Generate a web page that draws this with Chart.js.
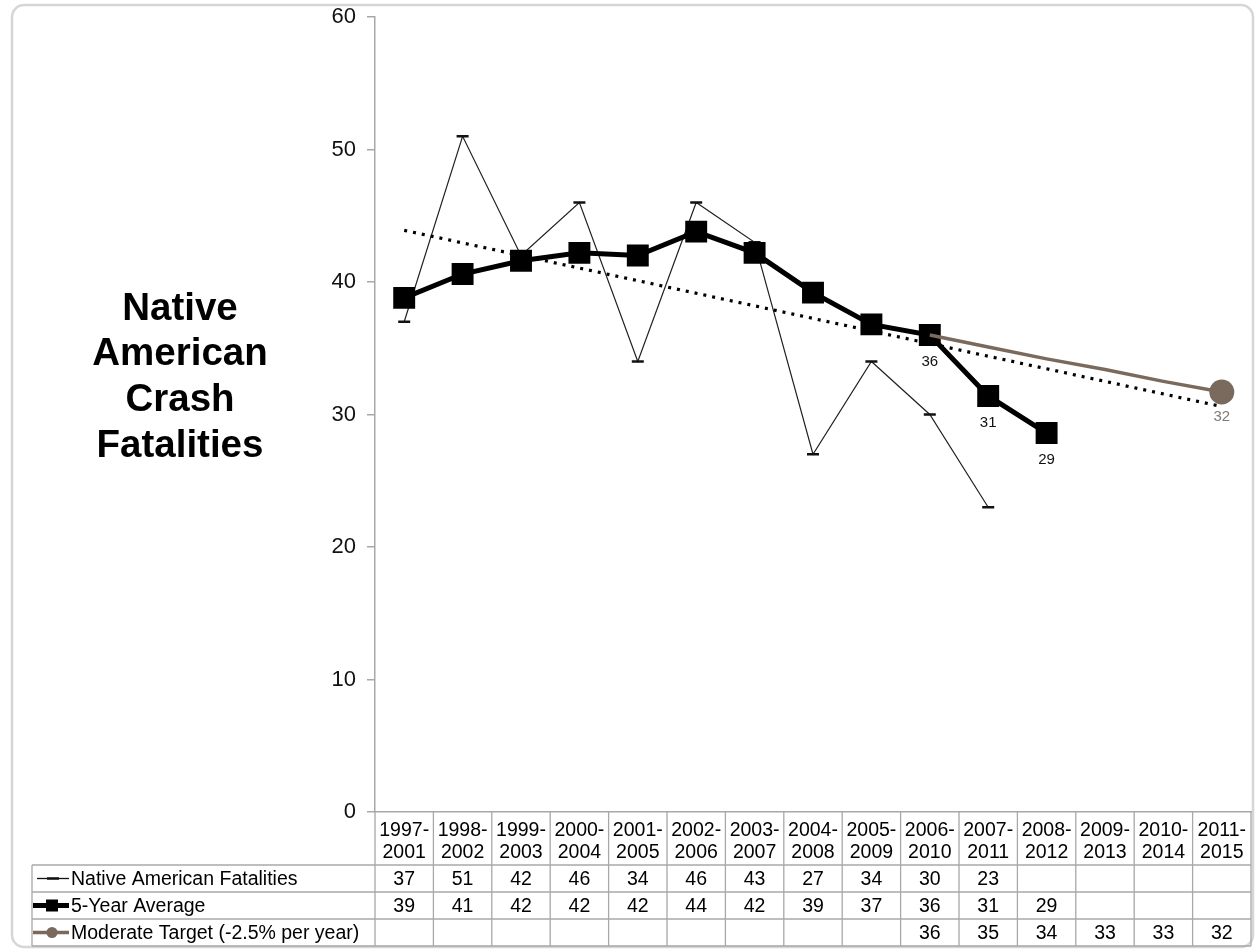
<!DOCTYPE html>
<html>
<head>
<meta charset="utf-8">
<title>Native American Crash Fatalities</title>
<script src="https://cdn.jsdelivr.net/npm/chart.js@4/dist/chart.umd.min.js"></script>
<style>
  html, body { margin: 0; padding: 0; background: #fff; }
  #wrap { position: relative; width: 1256px; height: 951px; }
</style>
</head>
<body>
<div id="wrap"><canvas id="c"></canvas></div>
<script>
// Five-year periods along the x axis
const periods = ['1997-2001', '1998-2002', '1999-2003', '2000-2004', '2001-2005',
  '2002-2006', '2003-2007', '2004-2008', '2005-2009', '2006-2010', '2007-2011',
  '2008-2012', '2009-2013', '2010-2014', '2011-2015'];

// Series values
const fatalities = [37, 51, 42, 46, 34, 46, 43, 27, 34, 30, 23, null, null, null, null];
const fiveYearAverage = [38.8, 40.6, 41.6, 42.2, 42.0, 43.8, 42.2, 39.2, 36.8, 36.0, 31.4, 28.6, null, null, null];
const moderateTarget = [null, null, null, null, null, null, null, null, null, 36.0, 35.1, 34.2, 33.4, 32.5, 31.7];
// Linear trend of the 5-year average, end points only
const averageTrend = [43.9, null, null, null, null, null, null, null, null, null, null, null, null, null, 30.6];

const seriesNames = ['Native American Fatalities', '5-Year Average', 'Moderate Target (-2.5% per year)'];
const titleLines = ['Native', 'American', 'Crash', 'Fatalities'];
const yTickValues = [0, 10, 20, 30, 40, 50, 60];

// Points whose values are written next to the marker
const labelledAverage = [9, 10, 11];
const labelledTarget = [14];

const FONT = "'Liberation Sans', Arial, Helvetica, sans-serif";
const TARGET_COLOR = '#7a6a5e';
const GRID_COLOR = '#a8a8a8';

function strokeLine(ctx, x1, y1, x2, y2) {
  ctx.beginPath();
  ctx.moveTo(x1, y1);
  ctx.lineTo(x2, y2);
  ctx.stroke();
}

const frameAndTable = {
  id: 'frameAndTable',
  beforeDraw(chart) {
    const ctx = chart.ctx;
    ctx.save();
    ctx.strokeStyle = '#d6d6d6';
    ctx.lineWidth = 2.5;
    ctx.beginPath();
    ctx.roundRect(12, 5, 1241, 942, 12);
    ctx.stroke();
    ctx.restore();
  },
  afterDraw(chart) {
    const { ctx, chartArea, scales } = chart;
    const xs = scales.x, ys = scales.y;
    const n = periods.length;
    const colW = (chartArea.right - chartArea.left) / n;
    const headTop = chartArea.bottom;
    const rowTop = 865, rowH = 27, tableLeft = 32;
    const tableBottom = rowTop + 3 * rowH;

    ctx.save();
    // Table grid
    ctx.strokeStyle = GRID_COLOR;
    ctx.lineWidth = 1.3;
    for (let r = 0; r <= 3; r++) {
      const y = rowTop + r * rowH;
      strokeLine(ctx, tableLeft, y, chartArea.right, y);
    }
    strokeLine(ctx, tableLeft, rowTop, tableLeft, tableBottom);
    for (let i = 0; i <= n; i++) {
      const xx = chartArea.left + i * colW;
      strokeLine(ctx, xx, headTop, xx, tableBottom);
    }

    // Row headers with series keys
    const rows = [fatalities, fiveYearAverage, moderateTarget];
    ctx.font = '19.5px ' + FONT;
    ctx.textBaseline = 'middle';
    ctx.fillStyle = '#000';
    for (let r = 0; r < 3; r++) {
      const cy = rowTop + r * rowH + rowH / 2;
      if (r === 0) {
        ctx.strokeStyle = '#111'; ctx.lineWidth = 1.3;
        strokeLine(ctx, 37, cy, 69, cy);
        ctx.lineWidth = 2.5;
        strokeLine(ctx, 47, cy, 59, cy);
      } else if (r === 1) {
        ctx.strokeStyle = '#000'; ctx.lineWidth = 5;
        strokeLine(ctx, 33, cy, 69, cy);
        ctx.fillStyle = '#000';
        ctx.fillRect(46, cy - 6, 12, 12);
      } else {
        ctx.strokeStyle = TARGET_COLOR; ctx.lineWidth = 3.5;
        strokeLine(ctx, 33, cy, 69, cy);
        ctx.fillStyle = TARGET_COLOR;
        ctx.beginPath(); ctx.arc(52, cy, 5.5, 0, Math.PI * 2); ctx.fill();
      }
      ctx.fillStyle = '#000';
      ctx.textAlign = 'left';
      ctx.fillText(seriesNames[r], 71, cy + 1);
      ctx.textAlign = 'center';
      rows[r].forEach((v, i) => {
        if (v === null) return;
        ctx.fillText(String(Math.round(v)), xs.getPixelForValue(i), cy + 1);
      });
    }

    // Value labels beside selected markers
    ctx.font = '15px ' + FONT;
    ctx.textAlign = 'center';
    ctx.fillStyle = '#111';
    labelledAverage.forEach(i => {
      const v = fiveYearAverage[i];
      ctx.fillText(String(Math.round(v)), xs.getPixelForValue(i), ys.getPixelForValue(v) + 27);
    });
    ctx.fillStyle = '#7f7a76';
    labelledTarget.forEach(i => {
      const v = moderateTarget[i];
      ctx.fillText(String(Math.round(v)), xs.getPixelForValue(i), ys.getPixelForValue(v) + 25);
    });

    // Side title
    ctx.font = 'bold 38.5px ' + FONT;
    ctx.fillStyle = '#000';
    ctx.textAlign = 'center';
    titleLines.forEach((t, k) => ctx.fillText(t, 180, 309 + k * 45.7));
    ctx.restore();
  }
};

new Chart(document.getElementById('c'), {
  type: 'line',
  data: {
    labels: periods,
    datasets: [
      {
        label: seriesNames[2],
        data: moderateTarget,
        borderColor: TARGET_COLOR,
        backgroundColor: TARGET_COLOR,
        borderWidth: 3.5,
        pointRadius: moderateTarget.map((v, i) => i === moderateTarget.length - 1 ? 12.5 : 0),
        pointStyle: 'circle',
        pointBorderWidth: 0,
        tension: 0
      },
      {
        label: seriesNames[1],
        data: fiveYearAverage,
        borderColor: '#000',
        backgroundColor: '#000',
        borderWidth: 5,
        pointStyle: 'rect',
        pointRadius: 15.5,
        pointBorderWidth: 0,
        tension: 0
      },
      {
        label: 'Linear (5-Year Average)',
        data: averageTrend,
        spanGaps: true,
        borderColor: '#000',
        borderWidth: 3.2,
        borderDash: [3, 6],
        borderCapStyle: 'butt',
        pointRadius: 0,
        tension: 0
      },
      {
        label: seriesNames[0],
        data: fatalities,
        borderColor: '#222',
        backgroundColor: '#222',
        borderWidth: 1.2,
        pointStyle: 'line',
        pointRadius: 6,
        pointBorderWidth: 2.5,
        pointBorderColor: '#111',
        tension: 0
      }
    ]
  },
  options: {
    responsive: true,
    maintainAspectRatio: false,
    animation: false,
    layout: { autoPadding: false, padding: { top: 17, right: 5, bottom: 0, left: 0 } },
    plugins: {
      legend: { display: false },
      tooltip: { enabled: false },
      title: { display: false }
    },
    scales: {
      x: {
        offset: true,
        grid: { display: false },
        border: { display: true, color: GRID_COLOR, width: 1.5 },
        ticks: {
          autoSkip: false,
          maxRotation: 0,
          minRotation: 0,
          padding: 0,
          color: '#000',
          font: { family: FONT, size: 19.5, lineHeight: 1.13 },
          callback: (value, idx) => {
            const parts = periods[idx].split('-');
            return [parts[0] + '-', parts[1]];
          }
        },
        afterFit: (scale) => {
          scale.height = 139;
          scale.paddingLeft = 0;
          scale.paddingRight = 0;
        }
      },
      y: {
        min: yTickValues[0],
        max: yTickValues[yTickValues.length - 1],
        grid: { display: true, drawOnChartArea: false, drawTicks: true, tickLength: 8, color: GRID_COLOR, lineWidth: 1.5 },
        border: { display: true, color: GRID_COLOR, width: 1.5 },
        afterBuildTicks: (scale) => { scale.ticks = yTickValues.map(v => ({ value: v })); },
        ticks: {
          padding: 11,
          color: '#111',
          font: { family: FONT, size: 22 }
        },
        afterFit: (scale) => {
          scale.width = 375;
          scale.paddingTop = 0;
          scale.paddingBottom = 0;
        }
      }
    }
  },
  plugins: [frameAndTable]
});
</script>
</body>
</html>
